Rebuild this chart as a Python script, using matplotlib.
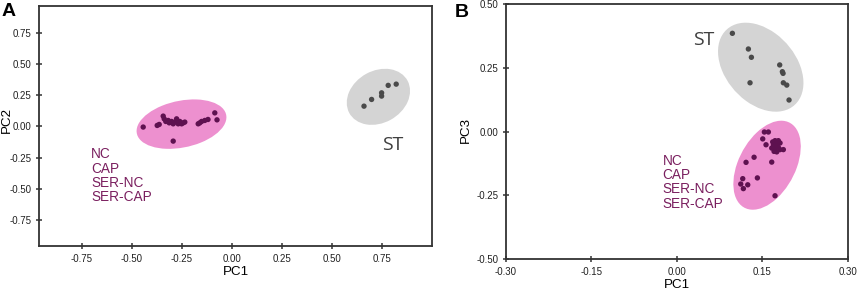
import numpy as np
import matplotlib
matplotlib.use("Agg")
import matplotlib.pyplot as plt
from matplotlib.patches import Ellipse

# ---------------- data ----------------
# Panel A (PC1 vs PC2)
a_grp_x = [-0.444, -0.374, -0.364, -0.344, -0.339, -0.331, -0.319, -0.314, -0.302,
           -0.294, -0.286, -0.277, -0.269, -0.261, -0.252, -0.244, -0.236, -0.294,
           -0.169, -0.161, -0.152, -0.136, -0.120, -0.086, -0.075]
a_grp_y = [-0.005, 0.008, 0.016, 0.083, 0.061, 0.040, 0.048, 0.029, 0.040,
           0.021, 0.035, 0.061, 0.021, 0.040, 0.021, 0.029, 0.035, -0.118,
           0.021, 0.029, 0.040, 0.048, 0.056, 0.109, 0.053]
a_st_x = [0.660, 0.698, 0.748, 0.748, 0.781, 0.821]
a_st_y = [0.163, 0.217, 0.270, 0.244, 0.330, 0.340]

# Panel B (PC1 vs PC3)
b_grp_x = [0.1537, 0.1607, 0.1508, 0.1566, 0.1683, 0.1724, 0.1782, 0.1695, 0.1754,
           0.1812, 0.1666, 0.1724, 0.1782, 0.1707, 0.1754, 0.1812, 0.1870, 0.1666,
           0.1356, 0.1215, 0.1414, 0.1157, 0.1122, 0.1168, 0.1245, 0.1724]
b_grp_y = [-0.002, -0.002, -0.029, -0.052, -0.041, -0.036, -0.036, -0.052, -0.049,
           -0.045, -0.065, -0.067, -0.062, -0.078, -0.080, -0.071, -0.071, -0.120,
           -0.101, -0.121, -0.182, -0.185, -0.206, -0.224, -0.209, -0.252]
b_st_x = [0.0975, 0.1256, 0.1309, 0.1285, 0.1806, 0.1853, 0.1865, 0.1870, 0.1930, 0.1970]
b_st_y = [0.385, 0.3235, 0.291, 0.191, 0.261, 0.2345, 0.228, 0.191, 0.182, 0.1235]

# confidence ellipses: (center x, center y, width, height, angle) in data units
a_grp_ell = (-0.2525, 0.0185, 0.484, 0.354, 33.1)
a_st_ell = (0.732, 0.238, 0.4595, 0.3032, 74.8)
b_grp_ell = (0.1584, -0.1322, 0.3529, 0.1062, 81.05)
b_st_ell = (0.1473, 0.2522, 0.3537, 0.1385, 100.2)

group_labels = ["NC", "CAP", "SER-NC", "SER-CAP"]
a_xticks = [-0.75, -0.50, -0.25, 0.00, 0.25, 0.50, 0.75]
a_yticks = [-0.75, -0.50, -0.25, 0.00, 0.25, 0.50, 0.75]
b_xticks = [-0.30, -0.15, 0.00, 0.15, 0.30]
b_yticks = [-0.50, -0.25, 0.00, 0.25, 0.50]

# ---------------- style ----------------
PINK = "#ED90CF"
PINK_PT = "#5E1150"
LABEL_C = "#7A1F5F"
GRAY = "#D4D4D4"
GRAY_PT = "#4A4A4A"
ST_C = "#404040"
SPINE_C = "#333333"

plt.rcParams['font.family'] = ['Liberation Sans', 'DejaVu Sans']

fig = plt.figure(figsize=(8.58, 2.93), dpi=100)
axA = fig.add_axes([39/858, 47/293, (432-39)/858, (246-6)/293])
axB = fig.add_axes([506/858, 34/293, (847.7-506)/858, (259-4)/293])


def style(ax, xticks, yticks):
    for s in ax.spines.values():
        s.set_linewidth(1.3)
        s.set_color(SPINE_C)
    ax.set_xticks(xticks)
    ax.set_yticks(yticks)
    ax.set_xticklabels([f"{t:.2f}" for t in xticks])
    ax.set_yticklabels([f"{t:.2f}" for t in yticks])
    ax.tick_params(direction='inout', length=5, width=1.1, color=SPINE_C,
                   labelsize=7, labelcolor="#222222", pad=3)


def ell(ax, p, color):
    e = Ellipse((p[0], p[1]), p[2], p[3], angle=p[4], facecolor=color,
                edgecolor='none', zorder=1)
    ax.add_patch(e)


# Panel A
ell(axA, a_grp_ell, PINK)
ell(axA, a_st_ell, GRAY)
axA.scatter(a_grp_x, a_grp_y, s=15, color=PINK_PT, edgecolors='none', zorder=3)
axA.scatter(a_st_x, a_st_y, s=15, color=GRAY_PT, edgecolors='none', zorder=3)
axA.set_xlim(-0.965, 1.0)
axA.set_ylim(-0.961, 0.968)
style(axA, a_xticks, a_yticks)
axA.set_xlabel("PC1", fontsize=9.6, labelpad=2)
axA.set_ylabel("PC2", fontsize=9.6)
axA.yaxis.set_label_coords(-0.066, 0.525)
axA.text(-0.705, -0.169, "\n".join(group_labels), color=LABEL_C, fontsize=9.8,
         va='top', ha='left', linespacing=1.02)
axA.text(0.802, -0.150, "ST", color=ST_C, fontsize=14, ha='center', va='center',
         family=['Open Sans', 'DejaVu Sans'])

# Panel B
ell(axB, b_grp_ell, PINK)
ell(axB, b_st_ell, GRAY)
axB.scatter(b_grp_x, b_grp_y, s=15, color=PINK_PT, edgecolors='none', zorder=3)
axB.scatter(b_st_x, b_st_y, s=15, color=GRAY_PT, edgecolors='none', zorder=3)
axB.set_xlim(-0.30, 0.30)
axB.set_ylim(-0.50, 0.50)
style(axB, b_xticks, b_yticks)
axB.set_xlabel("PC1", fontsize=9.6, labelpad=2)
axB.set_ylabel("PC3", fontsize=9.6)
axB.yaxis.set_label_coords(-0.0995, 0.506)
axB.text(-0.0254, -0.088, "\n".join(group_labels), color=LABEL_C, fontsize=9.8,
         va='top', ha='left', linespacing=1.02)
axB.text(0.0474, 0.359, "ST", color=ST_C, fontsize=14, ha='center', va='center',
         family=['Open Sans', 'DejaVu Sans'])

# panel letters
fig.text(2/858, 1 - 3/293, "A", fontsize=14, fontweight='bold', va='top', ha='left')
fig.text(455/858, 1 - 4/293, "B", fontsize=14, fontweight='bold', va='top', ha='left')

fig.savefig("out.png", dpi=100)
